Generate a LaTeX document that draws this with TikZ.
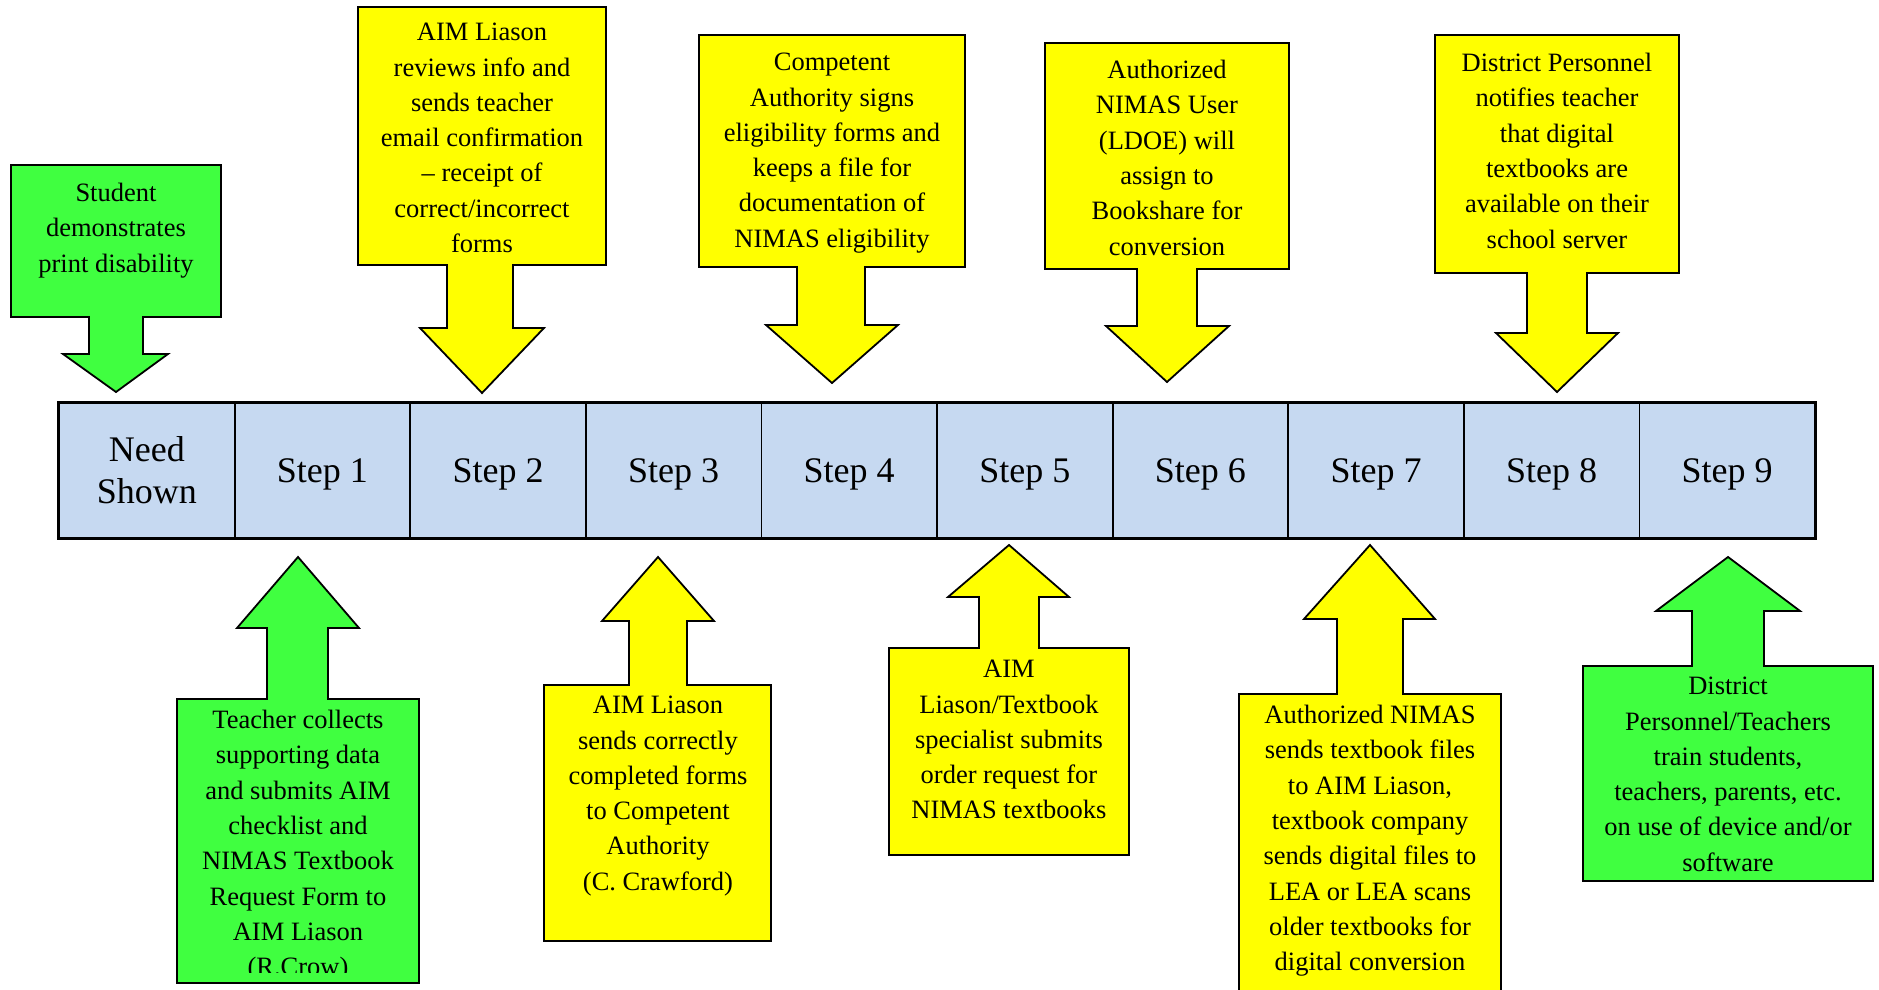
\documentclass[tikz,border=0pt]{standalone}
\usepackage{fontspec}
\setmainfont{Liberation Serif}
\usetikzlibrary{positioning,calc}

\definecolor{callgreen}{RGB}{64,255,64}
\definecolor{callyellow}{RGB}{255,255,0}
\definecolor{cellblue}{RGB}{198,217,241}

\tikzset{
  stepcell/.style={draw, line width=1.8pt, fill=cellblue, minimum width=175.6pt,
    minimum height=135pt, inner sep=0pt, align=center, font=\fontsize{36}{42}\selectfont},
  callshape/.style={draw, line width=1.8pt, line join=miter},
  calltext/.style={anchor=north, inner sep=0pt, align=center, font=\fontsize{26.5}{35.3}\selectfont},
}

\begin{document}
\begin{tikzpicture}[x=1pt, y=-1pt]
	\useasboundingbox (0,0) rectangle (1879,990);

	% Timeline of steps
	\node[stepcell] (s0) at (146.8,470.5) {Need\\Shown};
	\foreach \i in {1,...,9}
		\node[stepcell, text depth=0pt] (s\i) at ({59+175.6*(\i+0.5)},470.5) {Step \i};
	\draw[line width=2.5pt] (s0.north west) rectangle (s9.south east);

	% Callouts above the timeline (pointing down)
	\draw[callshape, fill=callgreen] (11,165) -- (221,165) -- (221,317) -- (143,317) -- (143,354) -- (168,354) -- (116,392) -- (63,354) -- (89,354) -- (89,317) -- (11,317) -- cycle;
	\node[calltext] (need) at (116,183) {Student\\demonstrates\\print disability};

	\draw[callshape, fill=callyellow] (358,7) -- (606,7) -- (606,265) -- (513,265) -- (513,328) -- (544,328) -- (482,393) -- (420,328) -- (447,328) -- (447,265) -- (358,265) -- cycle;
	\node[calltext] (review) at (482,23) {AIM Liason\\reviews info and\\sends teacher\\email confirmation\\\textendash{} receipt of\\correct/incorrect\\forms};

	\draw[callshape, fill=callyellow] (699,35) -- (965,35) -- (965,267) -- (865,267) -- (865,325) -- (898,325) -- (832,383) -- (766,325) -- (797,325) -- (797,267) -- (699,267) -- cycle;
	\node[calltext] (signs) at (832,53) {Competent\\Authority signs\\eligibility forms and\\keeps a file for\\documentation of\\NIMAS eligibility};

	\draw[callshape, fill=callyellow] (1045,43) -- (1289,43) -- (1289,269) -- (1197,269) -- (1197,326) -- (1229,326) -- (1167,382) -- (1106,326) -- (1137,326) -- (1137,269) -- (1045,269) -- cycle;
	\node[calltext] (assign) at (1167,60) {Authorized\\NIMAS User\\(LDOE) will\\assign to\\Bookshare for\\conversion};

	\draw[callshape, fill=callyellow] (1435,35) -- (1679,35) -- (1679,273) -- (1587,273) -- (1587,333) -- (1618,333) -- (1557,392) -- (1496,333) -- (1527,333) -- (1527,273) -- (1435,273) -- cycle;
	\node[calltext] (notify) at (1557,53) {District Personnel\\notifies teacher\\that digital\\textbooks are\\available on their\\school server};

	% Callouts below the timeline (pointing up)
	\draw[callshape, fill=callgreen] (177,699) -- (267,699) -- (267,628) -- (237,628) -- (298,557) -- (359,628) -- (328,628) -- (328,699) -- (419,699) -- (419,983) -- (177,983) -- cycle;
	\begin{scope}
		\clip (177,699) rectangle (419,972);
		\node[calltext] (collect) at (298,710) {Teacher collects\\supporting data\\and submits AIM\\checklist and\\NIMAS Textbook\\Request Form to\\AIM Liason\\(R.Crow)};
	\end{scope}

	\draw[callshape, fill=callyellow] (544,685) -- (629,685) -- (629,621) -- (602,621) -- (658,557) -- (714,621) -- (687,621) -- (687,685) -- (771,685) -- (771,941) -- (544,941) -- cycle;
	\node[calltext] (sends) at (658,696) {AIM Liason\\sends correctly\\completed forms\\to Competent\\Authority\\(C. Crawford)};

	\draw[callshape, fill=callyellow] (889,648) -- (979,648) -- (979,597) -- (948,597) -- (1009,545) -- (1069,597) -- (1039,597) -- (1039,648) -- (1129,648) -- (1129,855) -- (889,855) -- cycle;
	\node[calltext] (order) at (1009,660) {AIM\\Liason/Textbook\\specialist submits\\order request for\\NIMAS textbooks};

	\draw[callshape, fill=callyellow] (1239,694) -- (1337,694) -- (1337,619) -- (1304,619) -- (1370,545) -- (1435,619) -- (1403,619) -- (1403,694) -- (1501,694) -- (1501,1000) -- (1239,1000) -- cycle;
	\node[calltext] (files) at (1370,705) {Authorized NIMAS\\sends textbook files\\to AIM Liason,\\textbook company\\sends digital files to\\LEA or LEA scans\\older textbooks for\\digital conversion};

	\draw[callshape, fill=callgreen] (1583,666) -- (1692,666) -- (1692,611) -- (1656,611) -- (1728,557) -- (1800,611) -- (1764,611) -- (1764,666) -- (1873,666) -- (1873,881) -- (1583,881) -- cycle;
	\node[calltext] (train) at (1728,677) {District\\Personnel/Teachers\\train students,\\teachers, parents, etc.\\on use of device and/or\\software};
\end{tikzpicture}
\end{document}
